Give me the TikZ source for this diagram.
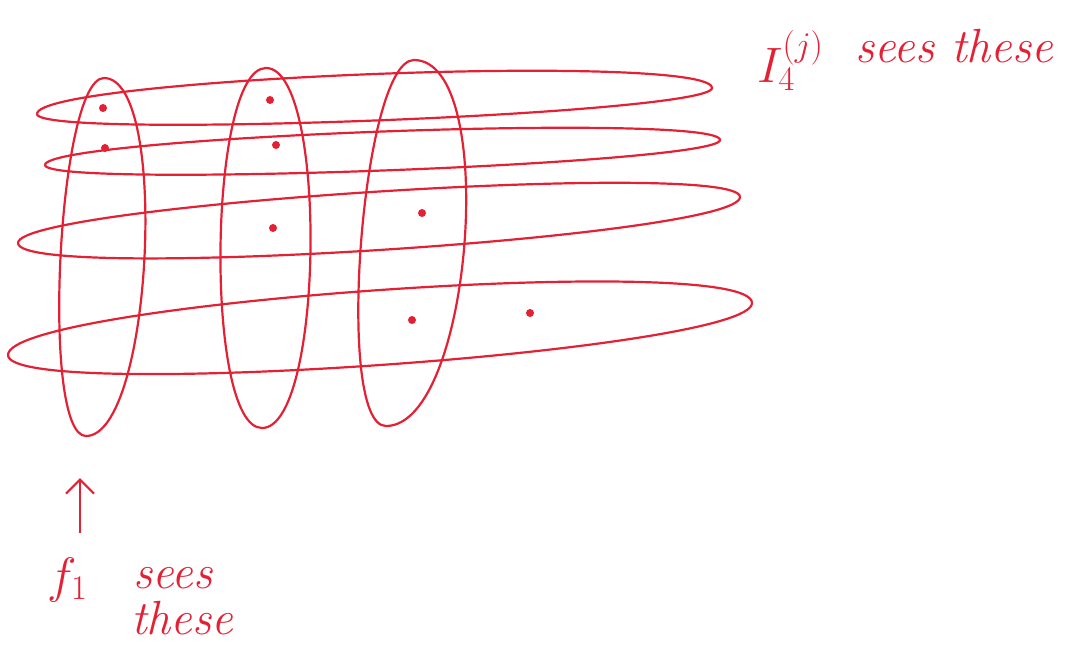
\documentclass[tikz,border=0pt]{standalone}
\usetikzlibrary{arrows.meta}
\definecolor{pen}{RGB}{228,32,52}
\begin{document}
\begin{tikzpicture}[x=0.5pt,y=-0.5pt,line width=1.1pt,color=pen,
    hand/.style={text=pen,font=\fontsize{24}{28}\selectfont\itshape,inner sep=0pt}]
				\newcommand\RowLoop[6]{% left tip, right tip, top lift, bottom drop
					\draw (#1,#2) .. controls (#1,#2-#5) and (#3,#4-#5) .. (#3,#4)
					              .. controls (#3,#4+#6) and (#1,#2+#6) .. (#1,#2);
				}
				\newcommand\ColLoop[6]{% top, bottom, right spread, left spread
					\draw (#1,#2) .. controls (#1+#5,#2) and (#3+#5,#4) .. (#3,#4)
					              .. controls (#3-#6,#4) and (#1-#6,#2) .. (#1,#2);
				}
				\useasboundingbox (0,0) rectangle (1079,655);
				% rows
				\RowLoop{37}{114}{712}{88}{36}{26}
				\RowLoop{45}{165}{720}{140}{28}{24}
				\RowLoop{18}{243}{740}{197}{38}{40}
				\RowLoop{8}{355}{752}{303}{52}{48}
				% columns
				\ColLoop{104}{78}{86}{436}{66}{46}
				\ColLoop{266}{68}{262}{428}{62}{58}
				\ColLoop{414}{60}{386}{426}{86}{52}
				% points
				\foreach \p/\x/\y in {a/103/108,b/105/148,c/270/100,d/276/145,e/273/228,f/422/213,g/412/320,h/530/313}
				\fill (\x,\y) coordinate (\p) circle (4);
				% labels
				\node[hand,anchor=base west] (Ij) at (756,82) {$I_4^{(j)}$};
				\node[hand,anchor=base west] (see1) at (854,62) {sees these};
				\coordinate (tail) at (80,533);
				\coordinate (head) at (80,478);
				\draw[-{Straight Barb[length=7pt]}] (tail) -- (head);
				\node[hand,anchor=base west] (f1) at (46,592) {$f_1$};
				\node[hand,anchor=base west] (see2) at (132,588) {sees};
				\node[hand,anchor=base west] (these) at (130,634) {these};
			\end{tikzpicture}
\end{document}
